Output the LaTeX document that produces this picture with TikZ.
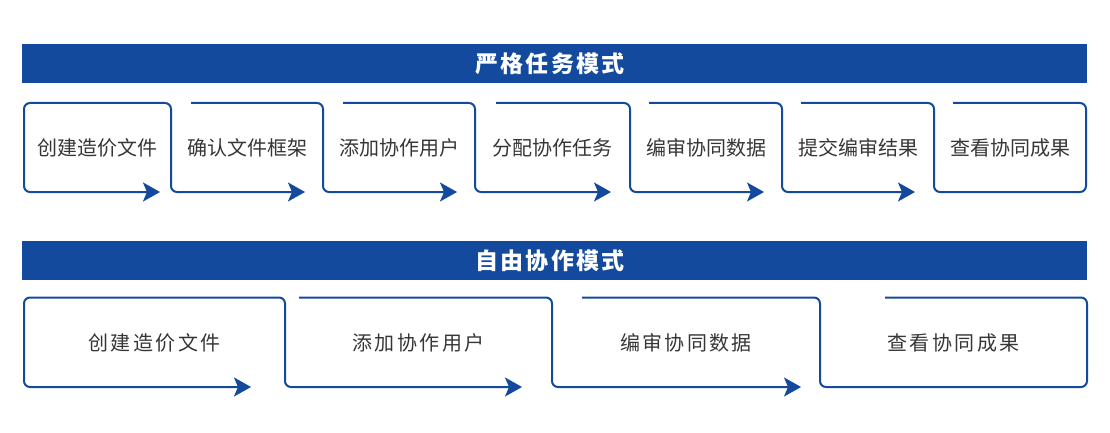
\documentclass[tikz,border=0pt]{standalone}
\usepackage{fontspec}
\setmainfont{Noto Sans CJK SC}
\newfontfamily\widefont[LetterSpace=12]{Noto Sans CJK SC}
\newfontfamily\bannerfont[LetterSpace=10]{Noto Sans CJK SC}
\usetikzlibrary{arrows.meta}
\definecolor{flowblue}{HTML}{134A9D}
\definecolor{flowtext}{HTML}{363636}

\begin{document}
\begin{tikzpicture}[x=1pt,y=-1pt,line width=2pt,draw=flowblue,rounded corners=6pt,
    >={Stealth[length=17pt,width=19pt,inset=4pt]}]
   \tikzstyle{every node}=[text=flowtext,inner sep=0pt]
   \tikzstyle{banner}=[fill=flowblue,sharp corners,minimum width=1065pt,minimum height=39pt]
   \tikzstyle{bannertext}=[text=white,font=\bannerfont\bfseries\fontsize{23}{23}\selectfont]
   \tikzstyle{stepbig}=[font=\fontsize{20}{20}\selectfont]
   \tikzstyle{stepwide}=[font=\widefont\fontsize{20}{20}\selectfont]
   \useasboundingbox (0,0) rectangle (1110,433);

   % strict mode
   \node[banner] (strict) at (554.8,63.8) {};
   \node[bannertext] (strictlbl) at (550,63.8) {严格任务模式};
   \foreach \x/\lbl [count=\i] in {97.5/创建造价文件,247/确认文件框架,399/添加协作用户,
      552.5/分配协作任务,706/编审协同数据,858/提交编审结果,1010/查看协同成果}
      \node[stepbig] (s\i) at (\x,148) {\lbl};
   \draw[<->] (160,192) -- (24,192) -- (24,103) -- (171,103) -- (171,192) -- (305,192);
   \foreach \s/\v/\t in {191/323/457,343/475/611,496/630/764,649/782/915}
      \draw[->] (\s,103) -- (\v,103) -- (\v,192) -- (\t,192);
   \draw (801,103) -- (934,103) -- (934,192) -- (1086,192) -- (1086,103) -- (953,103);

   % free mode
   \node[banner] (free) at (554.8,260.5) {};
   \node[bannertext] (freelbl) at (550,260.5) {自由协作模式};
   \foreach \x/\lbl [count=\i] in {154.5/创建造价文件,418.5/添加协作用户,686/编审协同数据,953.5/查看协同成果}
      \node[stepwide] (f\i) at (\x,343) {\lbl};
   \draw[<->] (251,387) -- (24,387) -- (24,297.5) -- (285,297.5) -- (285,387) -- (522,387);
   \draw[->] (299,297.5) -- (552,297.5) -- (552,387) -- (801,387);
   \draw (582,297.5) -- (820,297.5) -- (820,387) -- (1087,387) -- (1087,297.5) -- (885,297.5);
\end{tikzpicture}
\end{document}
